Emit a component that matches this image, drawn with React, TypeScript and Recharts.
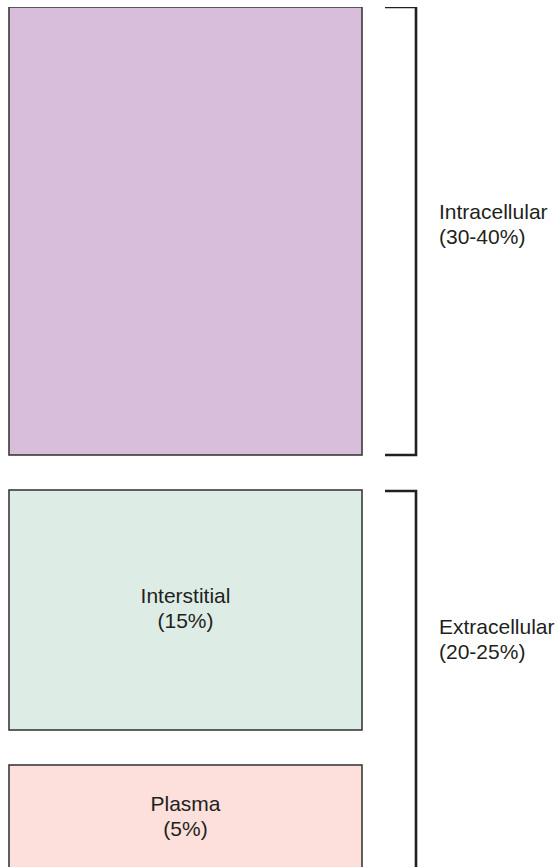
import React from 'react';
import { BarChart, Bar, XAxis, YAxis } from 'recharts';

// Box heights in pixel units (1 unit = 1px on the y scale)
const compartments = ['Plasma', 'Interstitial', 'Intracellular'];
const compartmentShares = ['5%', '15%', '30-40%'];
const compartmentHeights = [106, 240, 448];
const compartmentGaps = [35, 35];
const compartmentColors = ['#fde0dc', '#ddede5', '#d8bedb'];
const labelledCompartments = ['Plasma', 'Interstitial'];

const groups = ['Extracellular', 'Intracellular'];
const groupShares = ['20-25%', '30-40%'];
const groupHeights = [380, 448];
const groupGap = 36;

const TOTAL = 864;
const FONT = "'Liberation Sans', Arial, Helvetica, sans-serif";
const TEXT = '#231f20';
const LINE_GAP = 25;
// how far each bracket label sits above the bracket's middle
const groupLabelShift = [40, 5];

const row: Record<string, number | string> = { name: 'body' };
compartments.forEach((c, i) => {
  row[`box${i}`] = compartmentHeights[i];
  if (i < compartmentGaps.length) row[`boxGap${i}`] = compartmentGaps[i];
});
groups.forEach((g, i) => {
  row[`grp${i}`] = groupHeights[i];
  if (i === 0) row.grpGap = groupGap;
});
const data = [row];

const Empty = () => <g />;

const twoLines = (x: number, cy: number, a: string, b: string, anchor: 'middle' | 'start') => (
  <text x={x} y={cy - 7} fill={TEXT} fontSize={21} fontFamily={FONT} textAnchor={anchor}>
    <tspan x={x}>{a}</tspan>
    <tspan x={x} dy={LINE_GAP}>{b}</tspan>
  </text>
);

const boxShape = (i: number) => (props: any) => {
  const { x, y, width, height } = props;
  const name = compartments[i];
  return (
    <g>
      <rect x={x} y={y} width={width} height={height} fill={compartmentColors[i]} stroke="#3a3a3a" strokeWidth={1.6} />
      {labelledCompartments.includes(name) &&
        twoLines(x + width / 2, y + height / 2, name, `(${compartmentShares[i]})`, 'middle')}
    </g>
  );
};

const bracketShape = (i: number) => (props: any) => {
  const { x, y, width, height } = props;
  const right = x + width - 1;
  return (
    <g>
      <path
        d={`M${x},${y} H${right} V${y + height} H${x}`}
        fill="none"
        stroke="#231f20"
        strokeWidth={2.6}
      />
      {twoLines(x + width + 22, y + height / 2 - groupLabelShift[i], groups[i], `(${groupShares[i]})`, 'start')}
    </g>
  );
};

export default function App() {
  return (
    <div style={{ position: 'absolute', left: 0, top: 0, width: 559, height: 867, overflow: 'hidden', background: '#fff' }}>
      <BarChart
        width={559}
        height={871}
        data={data}
        margin={{ top: 7, right: 142, bottom: 0, left: 8 }}
        barGap={23}
        barCategoryGap={0}
      >
        <XAxis dataKey="name" hide />
        <YAxis type="number" domain={[0, TOTAL]} hide allowDataOverflow />
        <Bar dataKey="box0" stackId="boxes" barSize={353} isAnimationActive={false} shape={boxShape(0)} />
        <Bar dataKey="boxGap0" stackId="boxes" barSize={353} isAnimationActive={false} shape={Empty} />
        <Bar dataKey="box1" stackId="boxes" barSize={353} isAnimationActive={false} shape={boxShape(1)} />
        <Bar dataKey="boxGap1" stackId="boxes" barSize={353} isAnimationActive={false} shape={Empty} />
        <Bar dataKey="box2" stackId="boxes" barSize={353} isAnimationActive={false} shape={boxShape(2)} />
        <Bar dataKey="grp0" stackId="brackets" barSize={32} isAnimationActive={false} shape={bracketShape(0)} />
        <Bar dataKey="grpGap" stackId="brackets" barSize={32} isAnimationActive={false} shape={Empty} />
        <Bar dataKey="grp1" stackId="brackets" barSize={32} isAnimationActive={false} shape={bracketShape(1)} />
      </BarChart>
    </div>
  );
}
